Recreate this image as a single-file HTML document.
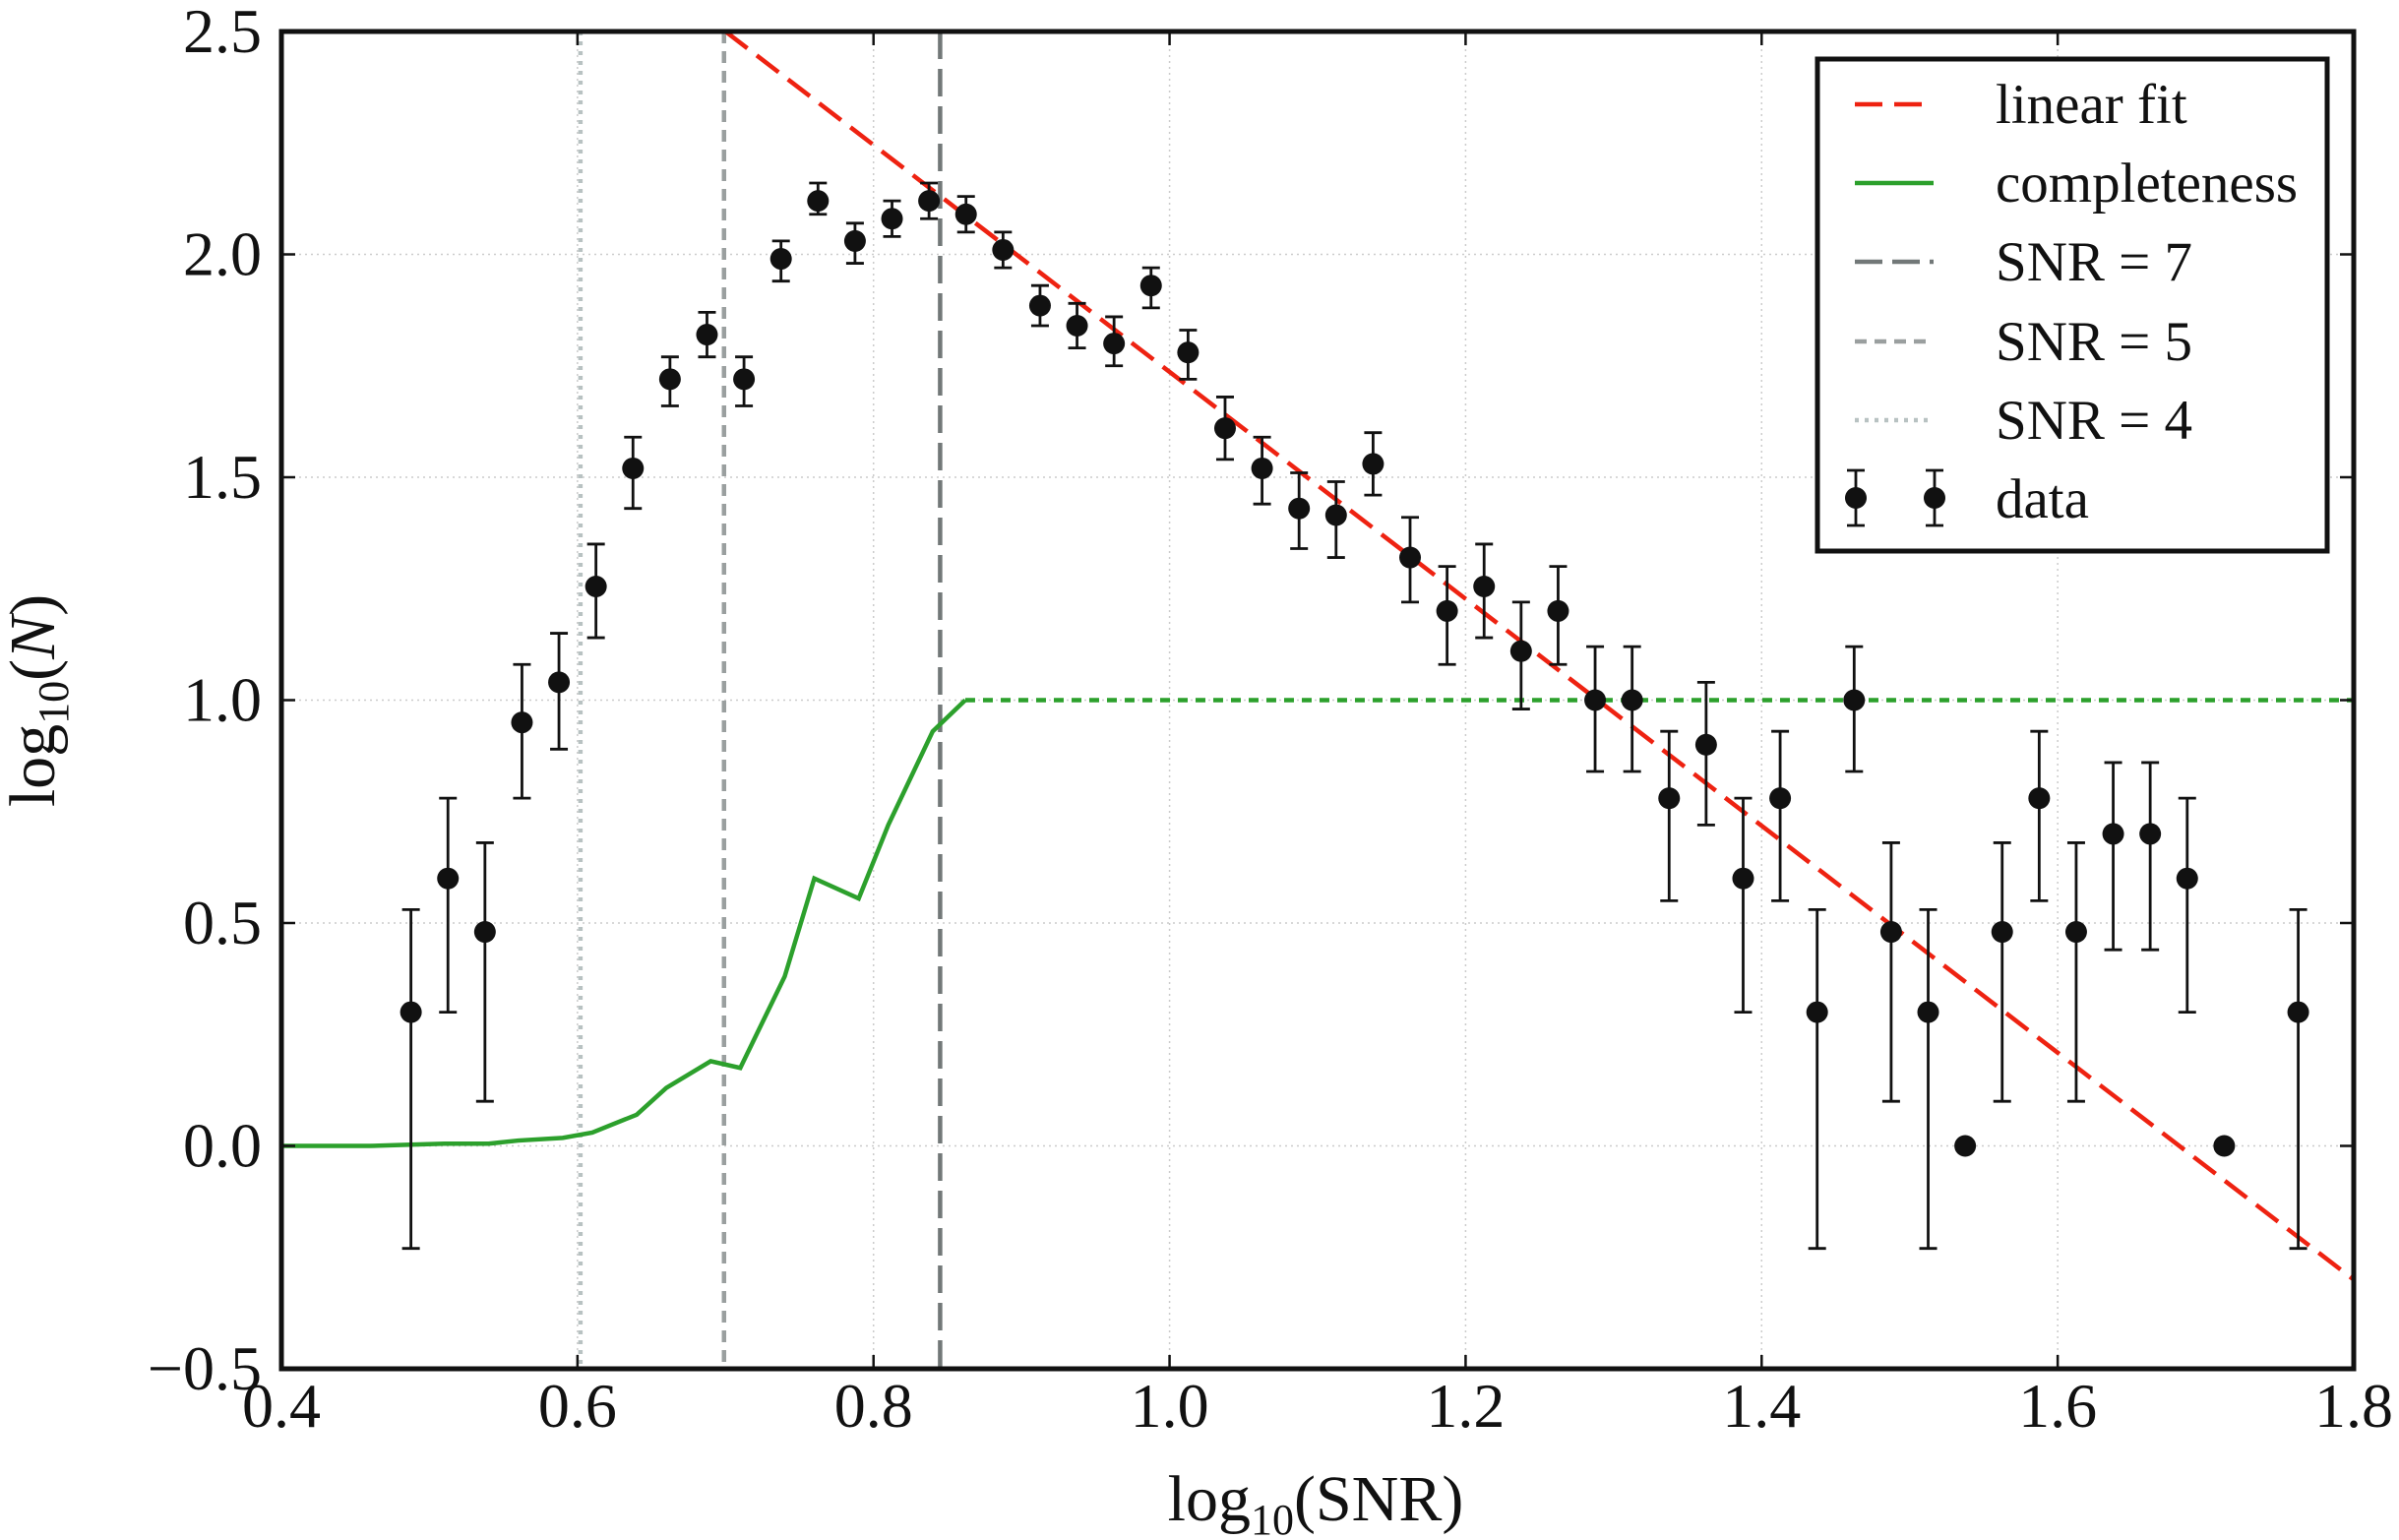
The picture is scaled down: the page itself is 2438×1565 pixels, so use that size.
<!DOCTYPE html>
<html><head><meta charset="utf-8"><style>
html,body{margin:0;padding:0;background:#fff;}
svg{display:block;font-family:"Liberation Serif",serif;}
</style></head><body>
<svg id="chart" width="2438" height="1565" viewBox="0 0 2438 1565" xmlns="http://www.w3.org/2000/svg"></svg>
<script>
const xVals=[0.4875,0.5125,0.5375,0.5625,0.5875,0.6125,0.6375,0.6625,0.6875,0.7125,0.7375,0.7625,0.7875,0.8125,0.8375,0.8625,0.8875,0.9125,0.9375,0.9625,0.9875,1.0125,1.0375,1.0625,1.0875,1.1125,1.1375,1.1625,1.1875,1.2125,1.2375,1.2625,1.2875,1.3125,1.3375,1.3625,1.3875,1.4125,1.4375,1.4625,1.4875,1.5125,1.5375,1.5625,1.5875,1.6125,1.6375,1.6625,1.6875,1.7125,1.7625];
const yVals=[0.30,0.60,0.48,0.95,1.04,1.255,1.52,1.72,1.82,1.72,1.99,2.12,2.03,2.08,2.12,2.09,2.01,1.885,1.84,1.80,1.93,1.78,1.61,1.52,1.43,1.415,1.53,1.32,1.20,1.255,1.11,1.20,1.00,1.00,0.78,0.90,0.60,0.78,0.30,1.00,0.48,0.30,0.00,0.48,0.78,0.48,0.70,0.70,0.60,0.00,0.30];
const yLow=[-0.23,0.30,0.10,0.78,0.89,1.14,1.43,1.66,1.77,1.66,1.94,2.09,1.98,2.04,2.08,2.05,1.97,1.84,1.79,1.75,1.88,1.72,1.54,1.44,1.34,1.32,1.46,1.22,1.08,1.14,0.98,1.08,0.84,0.84,0.55,0.72,0.30,0.55,-0.23,0.84,0.10,-0.23,0.00,0.10,0.55,0.10,0.44,0.44,0.30,0.00,-0.23];
const yHigh=[0.53,0.78,0.68,1.08,1.15,1.35,1.59,1.77,1.87,1.77,2.03,2.16,2.07,2.12,2.16,2.13,2.05,1.93,1.89,1.86,1.97,1.83,1.68,1.59,1.51,1.49,1.60,1.41,1.30,1.35,1.22,1.30,1.12,1.12,0.93,1.04,0.78,0.93,0.53,1.12,0.68,0.53,0.00,0.68,0.93,0.68,0.86,0.86,0.78,0.00,0.53];
const compX=[0.4,0.46,0.49,0.51,0.54,0.56,0.59,0.61,0.64,0.66,0.69,0.71,0.74,0.76,0.79,0.81,0.84,0.862];
const compY=[0,0,0.003,0.005,0.005,0.012,0.018,0.03,0.07,0.13,0.19,0.175,0.38,0.60,0.555,0.72,0.93,1.0];
const fitX=[0.7,1.8];
const fitY=[2.5,-0.3];
const xTicks=[0.4,0.6,0.8,1.0,1.2,1.4,1.6,1.8];
const yTicks=[-0.5,0.0,0.5,1.0,1.5,2.0,2.5];
const snrLines=[0.602,0.699,0.845];

const L=286,R=2392,T=32,B=1391;
const X=v=>L+(v-0.4)/1.4*(R-L);
const Y=v=>B-(v+0.5)/3*(B-T);
const svg=document.getElementById('chart');
const NS='http://www.w3.org/2000/svg';
function mk(tag,attrs,parent){const e=document.createElementNS(NS,tag);for(const k in attrs)e.setAttribute(k,attrs[k]);(parent||svg).appendChild(e);return e;}

const grid=mk('g',{});


xTicks.forEach(t=>{mk('line',{x1:X(t),x2:X(t),y1:T,y2:B,stroke:'#ccc','stroke-width':1.5,'stroke-dasharray':'2,4'},grid);});
yTicks.forEach(t=>{mk('line',{x1:L,x2:R,y1:Y(t),y2:Y(t),stroke:'#ccc','stroke-width':1.5,'stroke-dasharray':'2,4'},grid);});

const s4=mk('line',{x1:X(snrLines[0]),x2:X(snrLines[0]),y1:T,y2:B,stroke:'#b8c2c2','stroke-width':4.5,'stroke-dasharray':'4,6'});


const s5=mk('line',{x1:X(snrLines[1]),x2:X(snrLines[1]),y1:T,y2:B,stroke:'#9a9f9f','stroke-width':4.5,'stroke-dasharray':'12,8'});


const s7=mk('line',{x1:X(snrLines[2]),x2:X(snrLines[2]),y1:T,y2:B,stroke:'#727878','stroke-width':4.5,'stroke-dasharray':'28,10'});



const cp=mk('polyline',{points:compX.map((x,i)=>X(x)+','+Y(compY[i])).join(' '),fill:'none',stroke:'#2ca02c','stroke-width':4.5});


const cd=mk('line',{x1:X(compX[compX.length-1]),x2:R,y1:Y(1),y2:Y(1),stroke:'#2ca02c','stroke-width':4.5,'stroke-dasharray':'10,8'});



const fit=mk('line',{x1:X(fitX[0]),y1:Y(fitY[0]),x2:X(fitX[1]),y2:Y(fitY[1]),stroke:'#ee2211','stroke-width':4.5,'stroke-dasharray':'28,12'});



const dg=mk('g',{});


xVals.forEach((x,i)=>{
  const cx=X(x);
  if(yHigh[i]!==yLow[i]){
    mk('line',{x1:cx,x2:cx,y1:Y(yLow[i]),y2:Y(yHigh[i]),stroke:'#111','stroke-width':2.8},dg);
    mk('line',{x1:cx-9,x2:cx+9,y1:Y(yLow[i]),y2:Y(yLow[i]),stroke:'#111','stroke-width':2.8},dg);
    mk('line',{x1:cx-9,x2:cx+9,y1:Y(yHigh[i]),y2:Y(yHigh[i]),stroke:'#111','stroke-width':2.8},dg);
  }
  const c=mk('circle',{cx:cx,cy:Y(yVals[i]),r:11,fill:'#111'},dg);
  
  
});

const ax=mk('rect',{x:L,y:T,width:R-L,height:B-T,fill:'none',stroke:'#111','stroke-width':5});


const tk=mk('g',{});


xTicks.forEach(t=>{
  mk('line',{x1:X(t),x2:X(t),y1:B,y2:B-14,stroke:'#111','stroke-width':2.5},tk);
  mk('line',{x1:X(t),x2:X(t),y1:T,y2:T+14,stroke:'#111','stroke-width':2.5},tk);
  const e=mk('text',{x:X(t),y:1450,'font-size':64,'text-anchor':'middle',fill:'#111'},tk);
  e.textContent=t.toFixed(1);
});
yTicks.forEach(t=>{
  mk('line',{x1:L,x2:L+14,y1:Y(t),y2:Y(t),stroke:'#111','stroke-width':2.5},tk);
  mk('line',{x1:R,x2:R-14,y1:Y(t),y2:Y(t),stroke:'#111','stroke-width':2.5},tk);
  const e=mk('text',{x:266,y:Y(t)+21,'font-size':64,'text-anchor':'end',fill:'#111'},tk);
  e.textContent=(t<0?'\u2212':'')+Math.abs(t).toFixed(1);
});
</script>
<svg width="2438" height="1565" style="position:absolute;left:0;top:0;font-family:'Liberation Serif',serif" xmlns="http://www.w3.org/2000/svg">
  <text x="1337" y="1545" font-size="66" text-anchor="middle" fill="#111">log<tspan font-size="44" dy="14">10</tspan><tspan dy="-14">(SNR)</tspan></text>
  <text transform="translate(55,712) rotate(-90)" font-size="66" text-anchor="middle" fill="#111">log<tspan font-size="44" dy="14">10</tspan><tspan dy="-14">(</tspan><tspan font-style="italic">N</tspan>)</text>
  <g>
    <rect x="1847" y="60" width="518" height="500" fill="#fff" stroke="#111" stroke-width="5"/>
    <line x1="1885" x2="1965" y1="106" y2="106" stroke="#ee2211" stroke-width="4.5" stroke-dasharray="28,12"/>
    <text x="2028" y="125" font-size="57" fill="#111">linear fit</text>
    <line x1="1885" x2="1965" y1="186" y2="186" stroke="#2ca02c" stroke-width="4.5"/>
    <text x="2028" y="205" font-size="57" fill="#111">completeness</text>
    <line x1="1885" x2="1965" y1="266" y2="266" stroke="#727878" stroke-width="4.5" stroke-dasharray="28,10"/>
    <text x="2028" y="285" font-size="57" fill="#111">SNR = 7</text>
    <line x1="1885" x2="1965" y1="347" y2="347" stroke="#9a9f9f" stroke-width="4.5" stroke-dasharray="12,8"/>
    <text x="2028" y="366" font-size="57" fill="#111">SNR = 5</text>
    <line x1="1885" x2="1965" y1="427" y2="427" stroke="#b8c2c2" stroke-width="4.5" stroke-dasharray="4,6"/>
    <text x="2028" y="446" font-size="57" fill="#111">SNR = 4</text>
    <g stroke="#111" stroke-width="2.8">
      <line x1="1886" x2="1886" y1="478" y2="534"/><line x1="1877" x2="1895" y1="478" y2="478"/><line x1="1877" x2="1895" y1="534" y2="534"/>
      <line x1="1966" x2="1966" y1="478" y2="534"/><line x1="1957" x2="1975" y1="478" y2="478"/><line x1="1957" x2="1975" y1="534" y2="534"/>
    </g>
    <circle cx="1886" cy="506" r="11" fill="#111"/><circle cx="1966" cy="506" r="11" fill="#111"/>
    <text x="2028" y="526" font-size="57" fill="#111">data</text>
  </g>
</svg>
</body></html>
